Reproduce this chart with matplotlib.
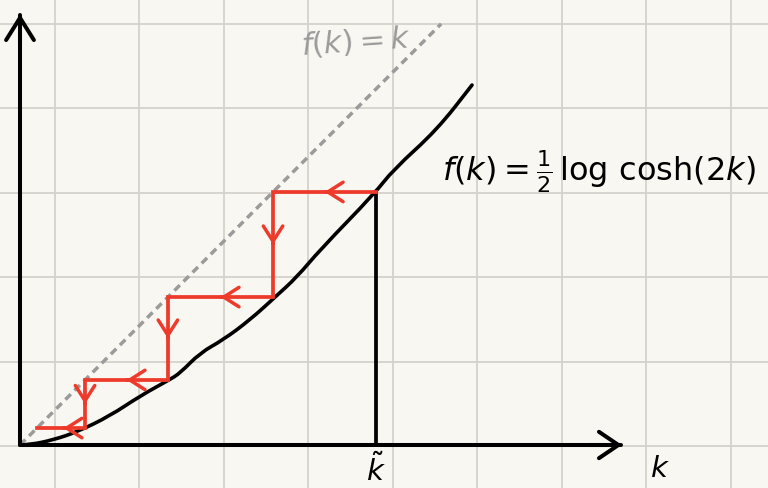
import numpy as np
import matplotlib
matplotlib.use("Agg")
import matplotlib.pyplot as plt
from matplotlib.path import Path
from matplotlib.patches import PathPatch

# ---- data (k units) ----
curve_k = [0.0, 0.035, 0.111, 0.192, 0.303, 0.404, 0.502, 0.539, 0.606, 0.684,
           0.774, 0.859, 0.933, 1.010, 1.195, 1.256, 1.404, 1.522]
curve_f = [0.0, 0.001, 0.017, 0.044, 0.098, 0.165, 0.219, 0.242, 0.310, 0.354,
           0.421, 0.498, 0.566, 0.657, 0.848, 0.926, 1.061, 1.212]
identity_k = [0.0, 1.418]
iterates = [1.199, 0.852, 0.498, 0.219, 0.057]   # k~, f(k~), f(f(k~)), ...
k_tilde = iterates[0]

BG = "#f9f7f2"
GRID = "#d5d1cb"
RED = "#ee3a2a"
GRAY = "#9b9b9b"

S = 297.0   # px per unit
fig = plt.figure(figsize=(7.68, 4.88), dpi=100, facecolor=BG)
ax = fig.add_axes([0, 0, 1, 1])
ax.set_facecolor(BG)
ax.set_xlim(-20 / S, 748 / S)
ax.set_ylim(-43 / S, 445 / S)
ax.axis("off")

# grid (paper)
step = 84.5 / S
for gx in 35 / S + step * np.arange(-1, 10):
    ax.axvline(gx, color=GRID, lw=1.3, zorder=0)
for gy in -1 / S + step * np.arange(-1, 7):
    ax.axhline(gy, color=GRID, lw=1.3, zorder=0)

# axes with open arrow heads
AX_LW = 2.9
ax.plot([0, 0], [0, 430 / S], color="black", lw=AX_LW, solid_capstyle="round", zorder=3)
ax.plot([0, 601 / S], [0, 0], color="black", lw=AX_LW, solid_capstyle="round", zorder=3)
ax.annotate("", xy=(0, 431 / S), xytext=(0, 400 / S),
            arrowprops=dict(arrowstyle="->,head_length=1.6,head_width=1.0",
                            color="black", lw=AX_LW, shrinkA=0, shrinkB=0), zorder=3)
ax.annotate("", xy=(602 / S, 0), xytext=(570 / S, 0),
            arrowprops=dict(arrowstyle="->,head_length=1.4,head_width=0.95",
                            color="black", lw=AX_LW, shrinkA=0, shrinkB=0), zorder=3)

# identity line
ax.plot(identity_k, identity_k, color=GRAY, lw=2.5, dashes=(2.2, 1.5), zorder=2)

# curve, drawn as a smooth path through the read points (quadratic Bezier via midpoints)
pts = np.column_stack([curve_k, curve_f])
verts = [tuple(pts[0])]
codes = [Path.MOVETO]
for i in range(1, len(pts) - 1):
    mid = (pts[i] + pts[i + 1]) / 2
    verts += [tuple(pts[i]), tuple(mid)]
    codes += [Path.CURVE3, Path.CURVE3]
verts.append(tuple(pts[-1]))
codes.append(Path.LINETO)
ax.add_patch(PathPatch(Path(verts, codes), facecolor="none", edgecolor="black",
                       lw=2.6, capstyle="round", joinstyle="round", zorder=4))

# vertical at k tilde
ax.plot([k_tilde, k_tilde], [0, iterates[1]], color="black", lw=2.7, zorder=4)

# staircase
xs, ys = [iterates[0]], [iterates[1]]
for i in range(1, len(iterates)):
    xs.append(iterates[i]); ys.append(iterates[i])
    if i + 1 < len(iterates):
        xs.append(iterates[i]); ys.append(iterates[i + 1])
ax.plot(xs, ys, color=RED, lw=2.7, solid_joinstyle="miter", zorder=5)

ah = dict(arrowstyle="->,head_length=1.1,head_width=0.7", color=RED, lw=2.5,
          shrinkA=0, shrinkB=0)
for i in range(len(xs) - 1):
    x0, y0, x1, y1 = xs[i], ys[i], xs[i + 1], ys[i + 1]
    mx, my = (x0 + x1) / 2, (y0 + y1) / 2
    if len(xs) - 2 == i:
        mx = x1 + 0.55 * (x0 - x1)
    dx, dy = (x1 - x0) * 0.01, (y1 - y0) * 0.01
    ax.annotate("", xy=(mx, my), xytext=(mx - dx, my - dy), arrowprops=ah, zorder=5)

# labels
ax.text(336 / S, (445 - 42) / S, r"$f(k)=k$", color=GRAY, fontsize=22,
        ha="center", va="center", rotation=4)
ax.text(422 / S, (445 - 172) / S, r"$f(k)=\frac{1}{2}\,\log\,\cosh(2k)$",
        color="black", fontsize=23, ha="left", va="center")
ax.text(k_tilde, -25 / S, r"$\tilde{k}$", color="black", fontsize=21,
        ha="center", va="center")
ax.text(640 / S, -24 / S, r"$k$", color="black", fontsize=21,
        ha="center", va="center")

fig.savefig("out.png", dpi=100, facecolor=BG)
